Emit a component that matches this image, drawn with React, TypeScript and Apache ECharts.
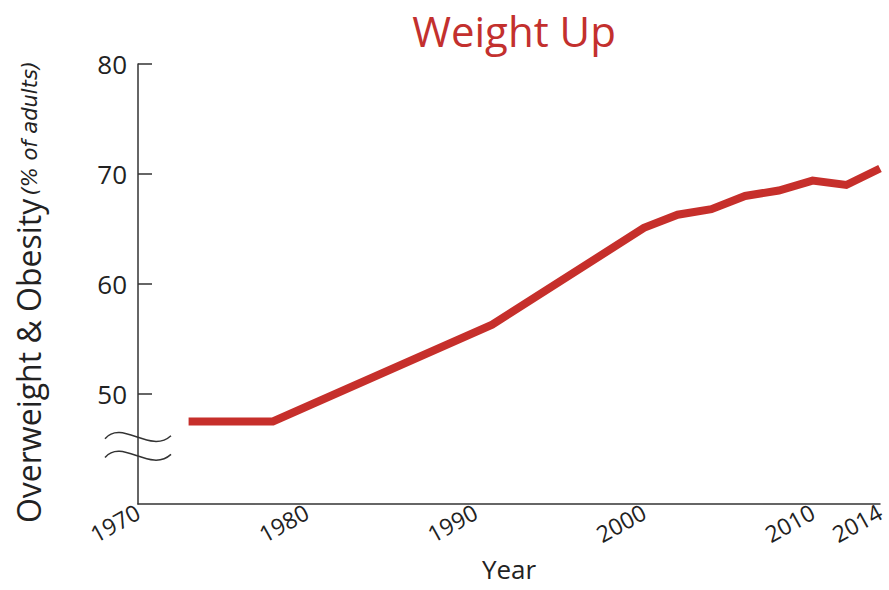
import React, { useEffect, useRef } from "react";
import * as echarts from "echarts";

const years = [1973, 1978, 1991, 2000, 2002, 2004, 2006, 2008, 2010, 2012, 2014];
const values = [47.5, 47.5, 56.3, 65.1, 66.3, 66.8, 68.0, 68.5, 69.4, 69.0, 70.5];
const xTickLabels = [1970, 1980, 1990, 2000, 2010, 2014];
const yTickLabels = [50, 60, 70, 80];

const FONT = "'Open Sans', Lato, sans-serif";

export default function App() {
  const ref = useRef<HTMLDivElement>(null);
  useEffect(() => {
    if (!ref.current) return;
    const chart = echarts.init(ref.current, undefined, { renderer: "svg" });
    chart.setOption({
      animation: false,
      backgroundColor: "#ffffff",
      title: {
        text: "Weight Up",
        left: 509,
        top: 4,
        textAlign: "center",
        textStyle: { color: "#c3302e", fontSize: 42, fontWeight: "normal", fontFamily: FONT },
      },
      grid: { left: 138, right: 9, top: 64, bottom: 86, containLabel: false, outerBoundsMode: "none" },
      xAxis: {
        type: "value",
        min: 1970,
        max: 2014,
        interval: 10,
        name: "Year",
        nameLocation: "middle",
        nameGap: 52,
        nameMoveOverlap: false,
        nameTextStyle: { color: "#222", fontSize: 26, lineHeight: 26, fontFamily: FONT },
        axisLine: { lineStyle: { color: "#333", width: 1.5 } },
        axisTick: { show: false },
        splitLine: { show: false },
        axisLabel: {
          customValues: xTickLabels,
          rotate: 29,
          margin: 6,
          color: "#222",
          fontSize: 23,
          fontFamily: FONT,
          formatter: (v: number) => String(v),
        },
      },
      yAxis: {
        type: "value",
        min: 40,
        max: 80,
        interval: 10,
        name: "{a|Overweight & Obesity} {b|(% of adults)}",
        nameLocation: "middle",
        nameGap: 94,
        nameMoveOverlap: false,
        nameRotate: 90,
        nameTextStyle: {
          padding: [0, 16, 0, 0],
          rich: {
            a: { color: "#222", fontSize: 32, fontFamily: FONT, verticalAlign: "bottom" },
            b: { color: "#222", fontSize: 21, fontStyle: "italic", fontFamily: "'DejaVu Sans', sans-serif", verticalAlign: "bottom", padding: [0, 0, 4, 0] },
          },
        },
        axisLine: { show: true, lineStyle: { color: "#333", width: 1.5 } },
        axisTick: {
          show: true,
          inside: true,
          length: 14,
          customValues: yTickLabels,
          lineStyle: { color: "#333", width: 1.5 },
        },
        splitLine: { show: false },
        axisLabel: {
          customValues: yTickLabels,
          margin: 11,
          color: "#222",
          fontSize: 26,
          fontFamily: FONT,
        },
      },
      series: [
        {
          type: "line",
          data: years.map((y, i) => [y, values[i]]),
          symbol: "none",
          lineStyle: { color: "#c62f2b", width: 8, cap: "butt", join: "miter" },
        },
      ],
    });
    const c = chart.convertToPixel({ gridIndex: 0 }, [1970, 46.3]) as number[];
    const c2 = chart.convertToPixel({ gridIndex: 0 }, [1970, 44.6]) as number[];
    const wave = (cx: number, cy: number) => ({
      type: "bezierCurve",
      shape: {
        x1: cx - 33, y1: cy + 4,
        cpx1: cx - 16, cpy1: cy - 16,
        cpx2: cx + 12, cpy2: cy + 20,
        x2: cx + 33, y2: cy + 1,
      },
      style: { stroke: "#333", lineWidth: 1.5, fill: "none" },
    });
    chart.setOption({ graphic: [wave(c[0], c[1]), wave(c2[0], c2[1])] });
    return () => chart.dispose();
  }, []);
  return (
    <div
      ref={ref}
      style={{ position: "absolute", left: 0, top: 0, width: 889, height: 590 }}
    />
  );
}
